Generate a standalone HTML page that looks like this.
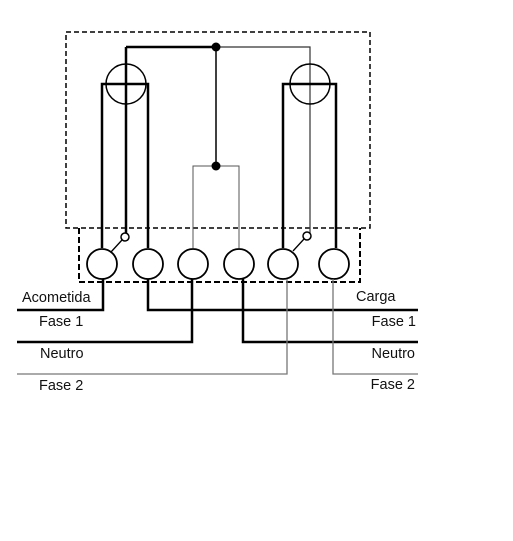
<!DOCTYPE html>
<html><head><meta charset="utf-8"><style>
html,body{margin:0;padding:0;background:#fff;width:513px;height:541px;overflow:hidden}
text{font-family:"Liberation Sans",Arial,sans-serif;font-size:14.5px;fill:#111}
</style></head><body>
<svg width="513" height="541" viewBox="0 0 513 541" xmlns="http://www.w3.org/2000/svg">
<g fill="none" stroke="#000">
<rect x="66" y="32" width="304" height="196" stroke-width="1.5" stroke-dasharray="5,3"/>
<polyline points="79,228 79,282 360,282 360,228" stroke-width="2" stroke-dasharray="6,3"/>
<line x1="126" y1="47" x2="216" y2="47" stroke-width="2.5"/>
<polyline points="216,47 310,47 310,233" stroke-width="1.2" stroke="#333"/>
<line x1="126" y1="47" x2="126" y2="233" stroke-width="2.5"/>
<line x1="216" y1="47" x2="216" y2="166" stroke-width="1.5"/>
<polyline points="193,248 193,166 239,166 239,248" stroke-width="1" stroke="#555"/>
<circle cx="126" cy="84" r="20" stroke-width="1.5"/>
<circle cx="310" cy="84" r="20" stroke-width="1.5"/>
<polyline points="102,248 102,84 148,84 148,248" stroke-width="2.5"/>
<polyline points="283,248 283,84 336,84 336,248" stroke-width="2.5"/>
<circle cx="125" cy="237" r="4" stroke-width="1.5"/>
<circle cx="307" cy="236" r="4" stroke-width="1.5"/>
<line x1="122" y1="240" x2="111" y2="252" stroke-width="1.3"/>
<line x1="304" y1="239" x2="293" y2="251" stroke-width="1.3"/>
<circle cx="102" cy="264" r="15" stroke-width="1.8"/>
<circle cx="148" cy="264" r="15" stroke-width="1.8"/>
<circle cx="193" cy="264" r="15" stroke-width="1.8"/>
<circle cx="239" cy="264" r="15" stroke-width="1.8"/>
<circle cx="283" cy="264" r="15" stroke-width="1.8"/>
<circle cx="334" cy="264" r="15" stroke-width="1.8"/>
<polyline points="103,279 103,310 17,310" stroke-width="2.5"/>
<polyline points="148,279 148,310 418,310" stroke-width="2.5"/>
<polyline points="192,279 192,342 17,342" stroke-width="2.5"/>
<polyline points="243,279 243,342 418,342" stroke-width="2.5"/>
<polyline points="287,279 287,374 17,374" stroke-width="1.3" stroke="#777"/>
<polyline points="333,279 333,374 418,374" stroke-width="1.3" stroke="#777"/>
</g>
<circle cx="216" cy="47" r="4.5" fill="#000"/>
<circle cx="216" cy="166" r="4.5" fill="#000"/>
<text x="22" y="302">Acometida</text>
<text x="39" y="326">Fase 1</text>
<text x="40" y="358">Neutro</text>
<text x="39" y="390">Fase 2</text>
<text x="356" y="301">Carga</text>
<text x="416" y="326" text-anchor="end">Fase 1</text>
<text x="415" y="358" text-anchor="end">Neutro</text>
<text x="415" y="389" text-anchor="end">Fase 2</text>
</svg>
</body></html>
